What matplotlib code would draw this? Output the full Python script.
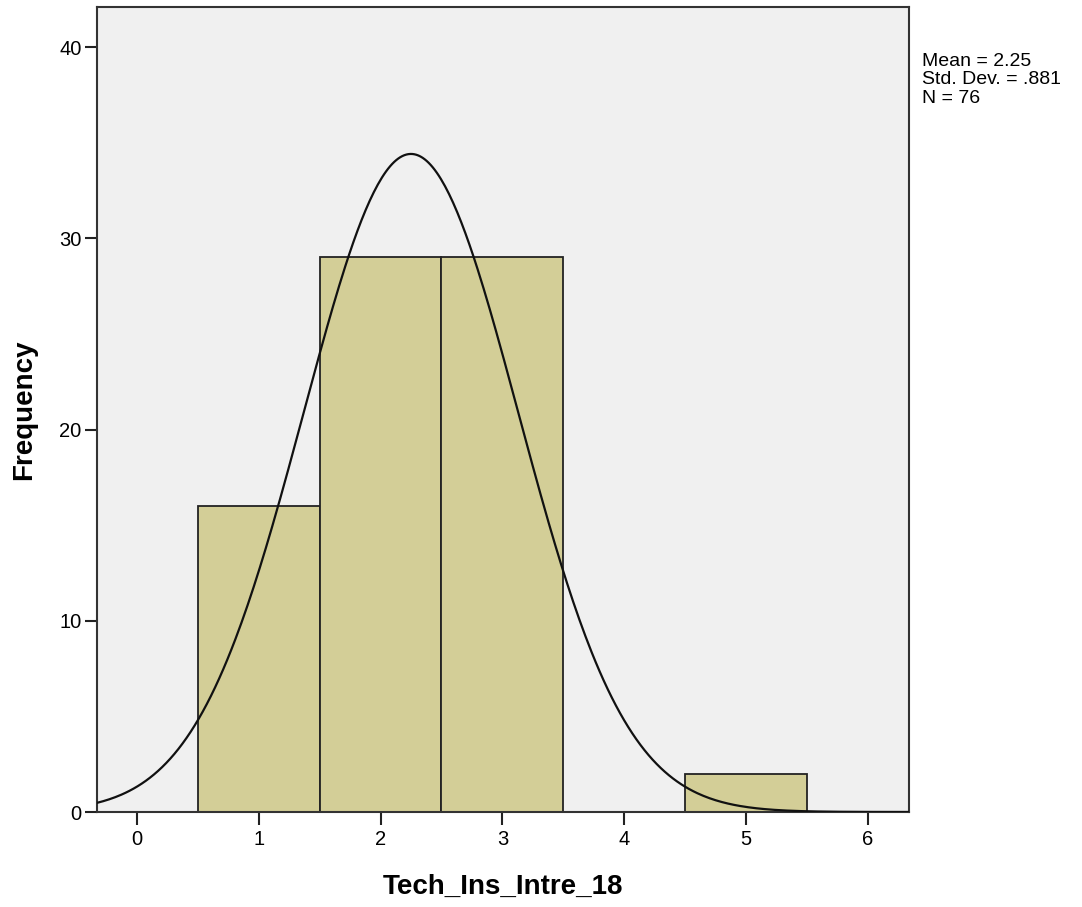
import numpy as np
import matplotlib.pyplot as plt

plt.rcParams['font.family'] = ['Liberation Sans', 'DejaVu Sans']

# histogram data
bin_centers = [1, 2, 3, 4, 5]
counts = [16, 29, 29, 0, 2]
mean = 2.25
std = 0.881
n = 76

fig = plt.figure(figsize=(10.82, 9.07), dpi=100)
ax = fig.add_axes([97 / 1082, 1 - 812 / 907, (909 - 97) / 1082, (812 - 7) / 907])
ax.set_facecolor('#f0f0f0')

ax.bar(bin_centers, counts, width=1.0, color='#d3ce97', edgecolor='#222222', linewidth=1.3, zorder=2)

xs = np.linspace(-0.326, 6.336, 400)
ys = n * 1.0 / (std * np.sqrt(2 * np.pi)) * np.exp(-0.5 * ((xs - mean) / std) ** 2)
ax.plot(xs, ys, color='#111111', linewidth=1.6, zorder=3)

ax.set_xlim(-0.326, 6.336)
ax.set_ylim(0, 42.1)
ax.set_xticks(range(0, 7))
ax.set_yticks([0, 10, 20, 30, 40])
ax.tick_params(direction='out', length=9, width=1.5, labelsize=14.5, color='#222222', pad=2)
ax.tick_params(axis='x', pad=4)
for s in ax.spines.values():
    s.set_linewidth(1.5)
    s.set_color('#333333')

ax.set_xlabel('Tech_Ins_Intre_18', fontsize=20, fontweight='bold', labelpad=18)
ax.set_ylabel('Frequency', fontsize=20, fontweight='bold', labelpad=16)

fig.text(922 / 1082, 1 - 53 / 907, 'Mean = 2.25\nStd. Dev. = .881\nN = 76',
         fontsize=14, va='top', ha='left', linespacing=1.1)

fig.savefig('out.png', dpi=100)
